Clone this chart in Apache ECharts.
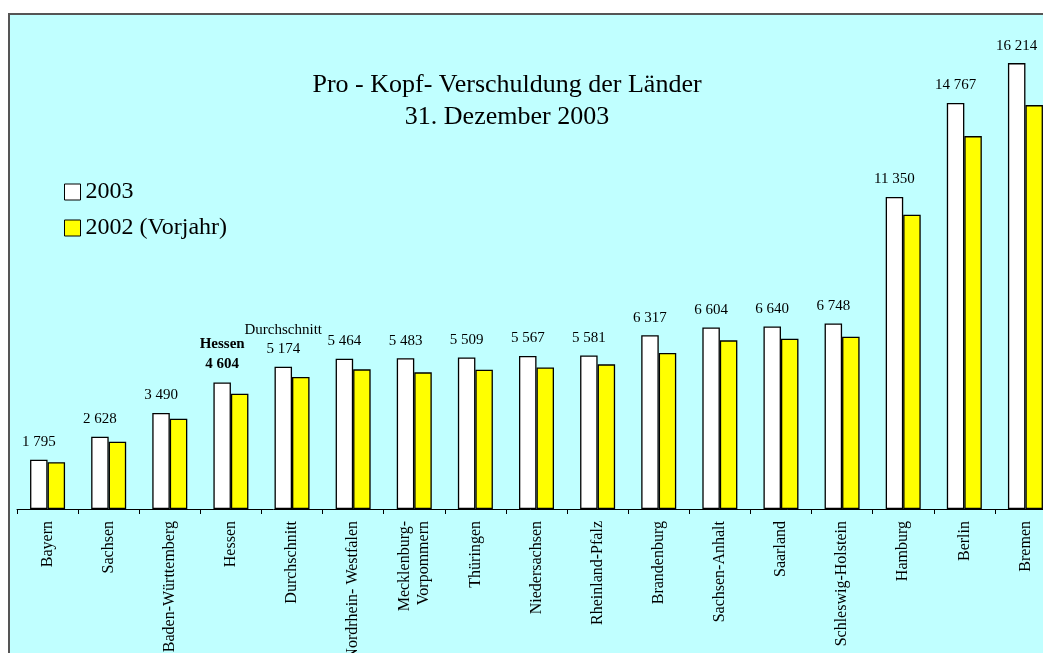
<!DOCTYPE html>
<html>
<head>
<meta charset="utf-8">
<script src="https://cdn.jsdelivr.net/npm/echarts@6/dist/echarts.min.js"></script>
<style>
  html, body { margin: 0; padding: 0; background: #fff; }
  #chart { width: 1043px; height: 653px; }
</style>
</head>
<body>
<div id="chart"></div>
<script>
// Länder, sortiert nach Pro-Kopf-Verschuldung 2003
var categories = ['Bayern', 'Sachsen', 'Baden-Württemberg', 'Hessen', 'Durchschnitt',
  'Nordrhein- Westfalen', 'Mecklenburg-\nVorpommern', 'Thüringen', 'Niedersachsen',
  'Rheinland-Pfalz', 'Brandenburg', 'Sachsen-Anhalt', 'Saarland', 'Schleswig-Holstein',
  'Hamburg', 'Berlin', 'Bremen'];
var values2003 = [1795, 2628, 3490, 4604, 5174, 5464, 5483, 5509, 5567, 5581, 6317, 6604, 6640, 6748, 11350, 14767, 16214];
// Vorjahr
var values2002 = [1700, 2447, 3283, 4192, 4799, 5078, 4969, 5065, 5150, 5260, 5671, 6132, 6192, 6265, 10700, 13560, 14687];
var seriesNames = ['2003', '2002 (Vorjahr)'];

var serif = 'Liberation Serif, Times New Roman, serif';

function fmt(v) {
  return String(v).replace(/\B(?=(\d{3})+(?!\d))/g, ' ');
}

var chart = echarts.init(document.getElementById('chart'));
var option = {
  animation: false,
  backgroundColor: '#fff',
  textStyle: { fontFamily: serif, color: '#000' },
  graphic: [{
    type: 'rect',
    z: -10,
    silent: true,
    shape: { x: 9, y: 14, width: 1100, height: 700 },
    style: { fill: '#C0FFFF', stroke: '#555', lineWidth: 2 }
  }],
  title: {
    text: 'Pro - Kopf- Verschuldung der Länder\n31. Dezember 2003',
    left: 502,
    top: 64,
    textAlign: 'center',
    textStyle: { fontFamily: serif, fontSize: 26, fontWeight: 'normal', color: '#000', lineHeight: 32 }
  },
  legend: {
    data: seriesNames,
    orient: 'vertical',
    left: 64,
    top: 180,
    itemGap: 12,
    itemWidth: 16,
    itemHeight: 16,
    icon: 'rect',
    selectedMode: false,
    padding: 0,
    itemStyle: { borderColor: '#000', borderWidth: 1 },
    textStyle: { fontFamily: serif, fontSize: 24, color: '#000', lineHeight: 24 }
  },
  grid: {
    left: 17,
    right: -13,
    top: 14,
    bottom: 144,
    outerBoundsMode: 'none',
    containLabel: false
  },
  xAxis: {
    type: 'category',
    data: categories,
    axisLine: { lineStyle: { color: '#000', width: 1 } },
    axisTick: { show: true, interval: 0, length: 5, lineStyle: { color: '#000', width: 1 } },
    axisLabel: {
      rotate: 90,
      interval: 0,
      margin: 12,
      fontFamily: serif,
      fontSize: 16,
      color: '#000',
      lineHeight: 19
    }
  },
  yAxis: {
    type: 'value',
    min: 0,
    max: 18000,
    show: false,
    splitLine: { show: false }
  },
  series: [{
    name: seriesNames[0],
    type: 'bar',
    data: values2003,
    barWidth: 17.5,
    barGap: '0%',
    itemStyle: { color: '#fff', borderColor: '#000', borderWidth: 1.3 },
    label: {
      show: true,
      position: 'top',
      distance: 8,
      fontFamily: serif,
      fontSize: 15,
      color: '#000',
      lineHeight: 19,
      formatter: function (p) {
        if (p.name === 'Hessen') return '{b|Hessen}\n{b|' + fmt(p.value) + '}';
        if (p.name === 'Durchschnitt') return 'Durchschnitt\n' + fmt(p.value);
        return fmt(p.value);
      },
      rich: {
        b: { fontFamily: serif, fontSize: 15, fontWeight: 'bold', color: '#000', lineHeight: 20 }
      }
    }
  }, {
    name: seriesNames[1],
    type: 'bar',
    data: values2002,
    barWidth: 17.5,
    barGap: '0%',
    itemStyle: { color: '#FFFF00', borderColor: '#000', borderWidth: 1.3 }
  }]
};
chart.setOption(option);
</script>
</body>
</html>
